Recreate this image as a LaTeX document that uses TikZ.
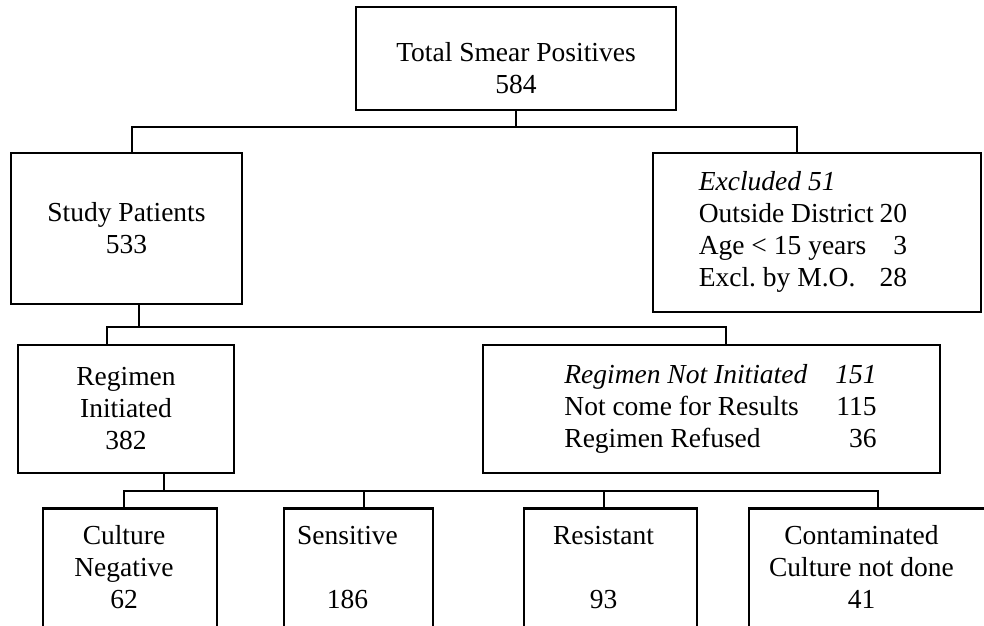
\documentclass[tikz,border=0pt]{standalone}
\usepackage{fontspec}
\setmainfont{Liberation Serif}
\usepackage{tikz}
\usetikzlibrary{positioning,calc}
\tikzset{
  box/.style={draw,line width=2.6pt,inner sep=2pt,font=\fontsize{27.5}{32}\selectfont,align=center},
  ln/.style={draw,line width=2.4pt},
}

\begin{document}
\begin{tikzpicture}[x=1pt,y=-1pt]
\path[use as bounding box] (0,0) rectangle (984,625);
\clip (0,0) rectangle (984,625);
% top level
\node[box,minimum width=320,minimum height=103] (tot) at (516,58.5)
  {\raisebox{-13pt}[\height][\depth]{\begin{tabular}{@{}c@{}}Total Smear Positives\\584\end{tabular}}};
\node[box,minimum width=231,minimum height=151] (study) at (126.5,228.5) {Study Patients\\533};
\node[box,minimum width=328,minimum height=159] (excl) at (817,232.5)
  {\begin{tabular}{@{}l@{\hspace{6pt}}r@{}}
   \multicolumn{2}{@{}l@{}}{\textit{Excluded 51}}\\
   Outside District & 20\\
   Age < 15 years & 3\\
   Excl.\ by M.O. & 28
   \end{tabular}\hspace*{28pt}};
% second level
\node[box,minimum width=216,minimum height=128] (ri) at (126,409) {Regimen\\Initiated\\382};
\node[box,minimum width=457,minimum height=128] (rni) at (711.5,409)
  {\hspace*{18pt}\begin{tabular}{@{}l@{\hspace{28pt}}r@{}}
   \textit{Regimen Not Initiated} & \textit{151}\\
   Not come for Results & 115\\
   Regimen Refused & 36
   \end{tabular}};
% culture results
\node[box,anchor=north,minimum width=174,minimum height=124] (cn) at (130,507)
  {\begin{tabular}{@{}c@{}}Culture\\Negative\\62\end{tabular}\hspace*{12pt}};
\node[box,anchor=north,minimum width=149,minimum height=124] (sens) at (358.5,507)
  {\begin{tabular}{@{}c@{}}Sensitive\\[32pt]186\end{tabular}\hspace*{22pt}};
\node[box,anchor=north,minimum width=173,minimum height=124] (res) at (610.5,507)
  {\begin{tabular}{@{}c@{}}Resistant\\[32pt]93\end{tabular}\hspace*{14pt}};
\node[box,anchor=north,minimum width=251,minimum height=124] (cont) at (874.5,507)
  {\begin{tabular}{@{}c@{}}Contaminated\\Culture not done\\41\end{tabular}\hspace*{26pt}};
% connectors
\coordinate (j1) at (517,127);
\coordinate (j2) at (139,327);
\coordinate (j3) at (164,491);
\draw[ln] (tot.south) -- (tot.south |- j1);
\draw[ln] ([xshift=5.5]study.north) |- (j1) -| ([xshift=-20]excl.north);
\draw[ln] ([xshift=12.5]study.south) -- (j2);
\draw[ln] ([xshift=-19]ri.north) |- (j2) -| ([xshift=14.5]rni.north);
\draw[ln] ([xshift=38]ri.south) -- (j3);
\draw[ln] ([xshift=-6]cn.north) |- (j3) -| ([xshift=3.5]cont.north);
\draw[ln] ([xshift=5.5]sens.north) -- ([xshift=5.5]sens.north |- j3);
\draw[ln] ([xshift=-6.5]res.north) -- ([xshift=-6.5]res.north |- j3);
\end{tikzpicture}
\end{document}
